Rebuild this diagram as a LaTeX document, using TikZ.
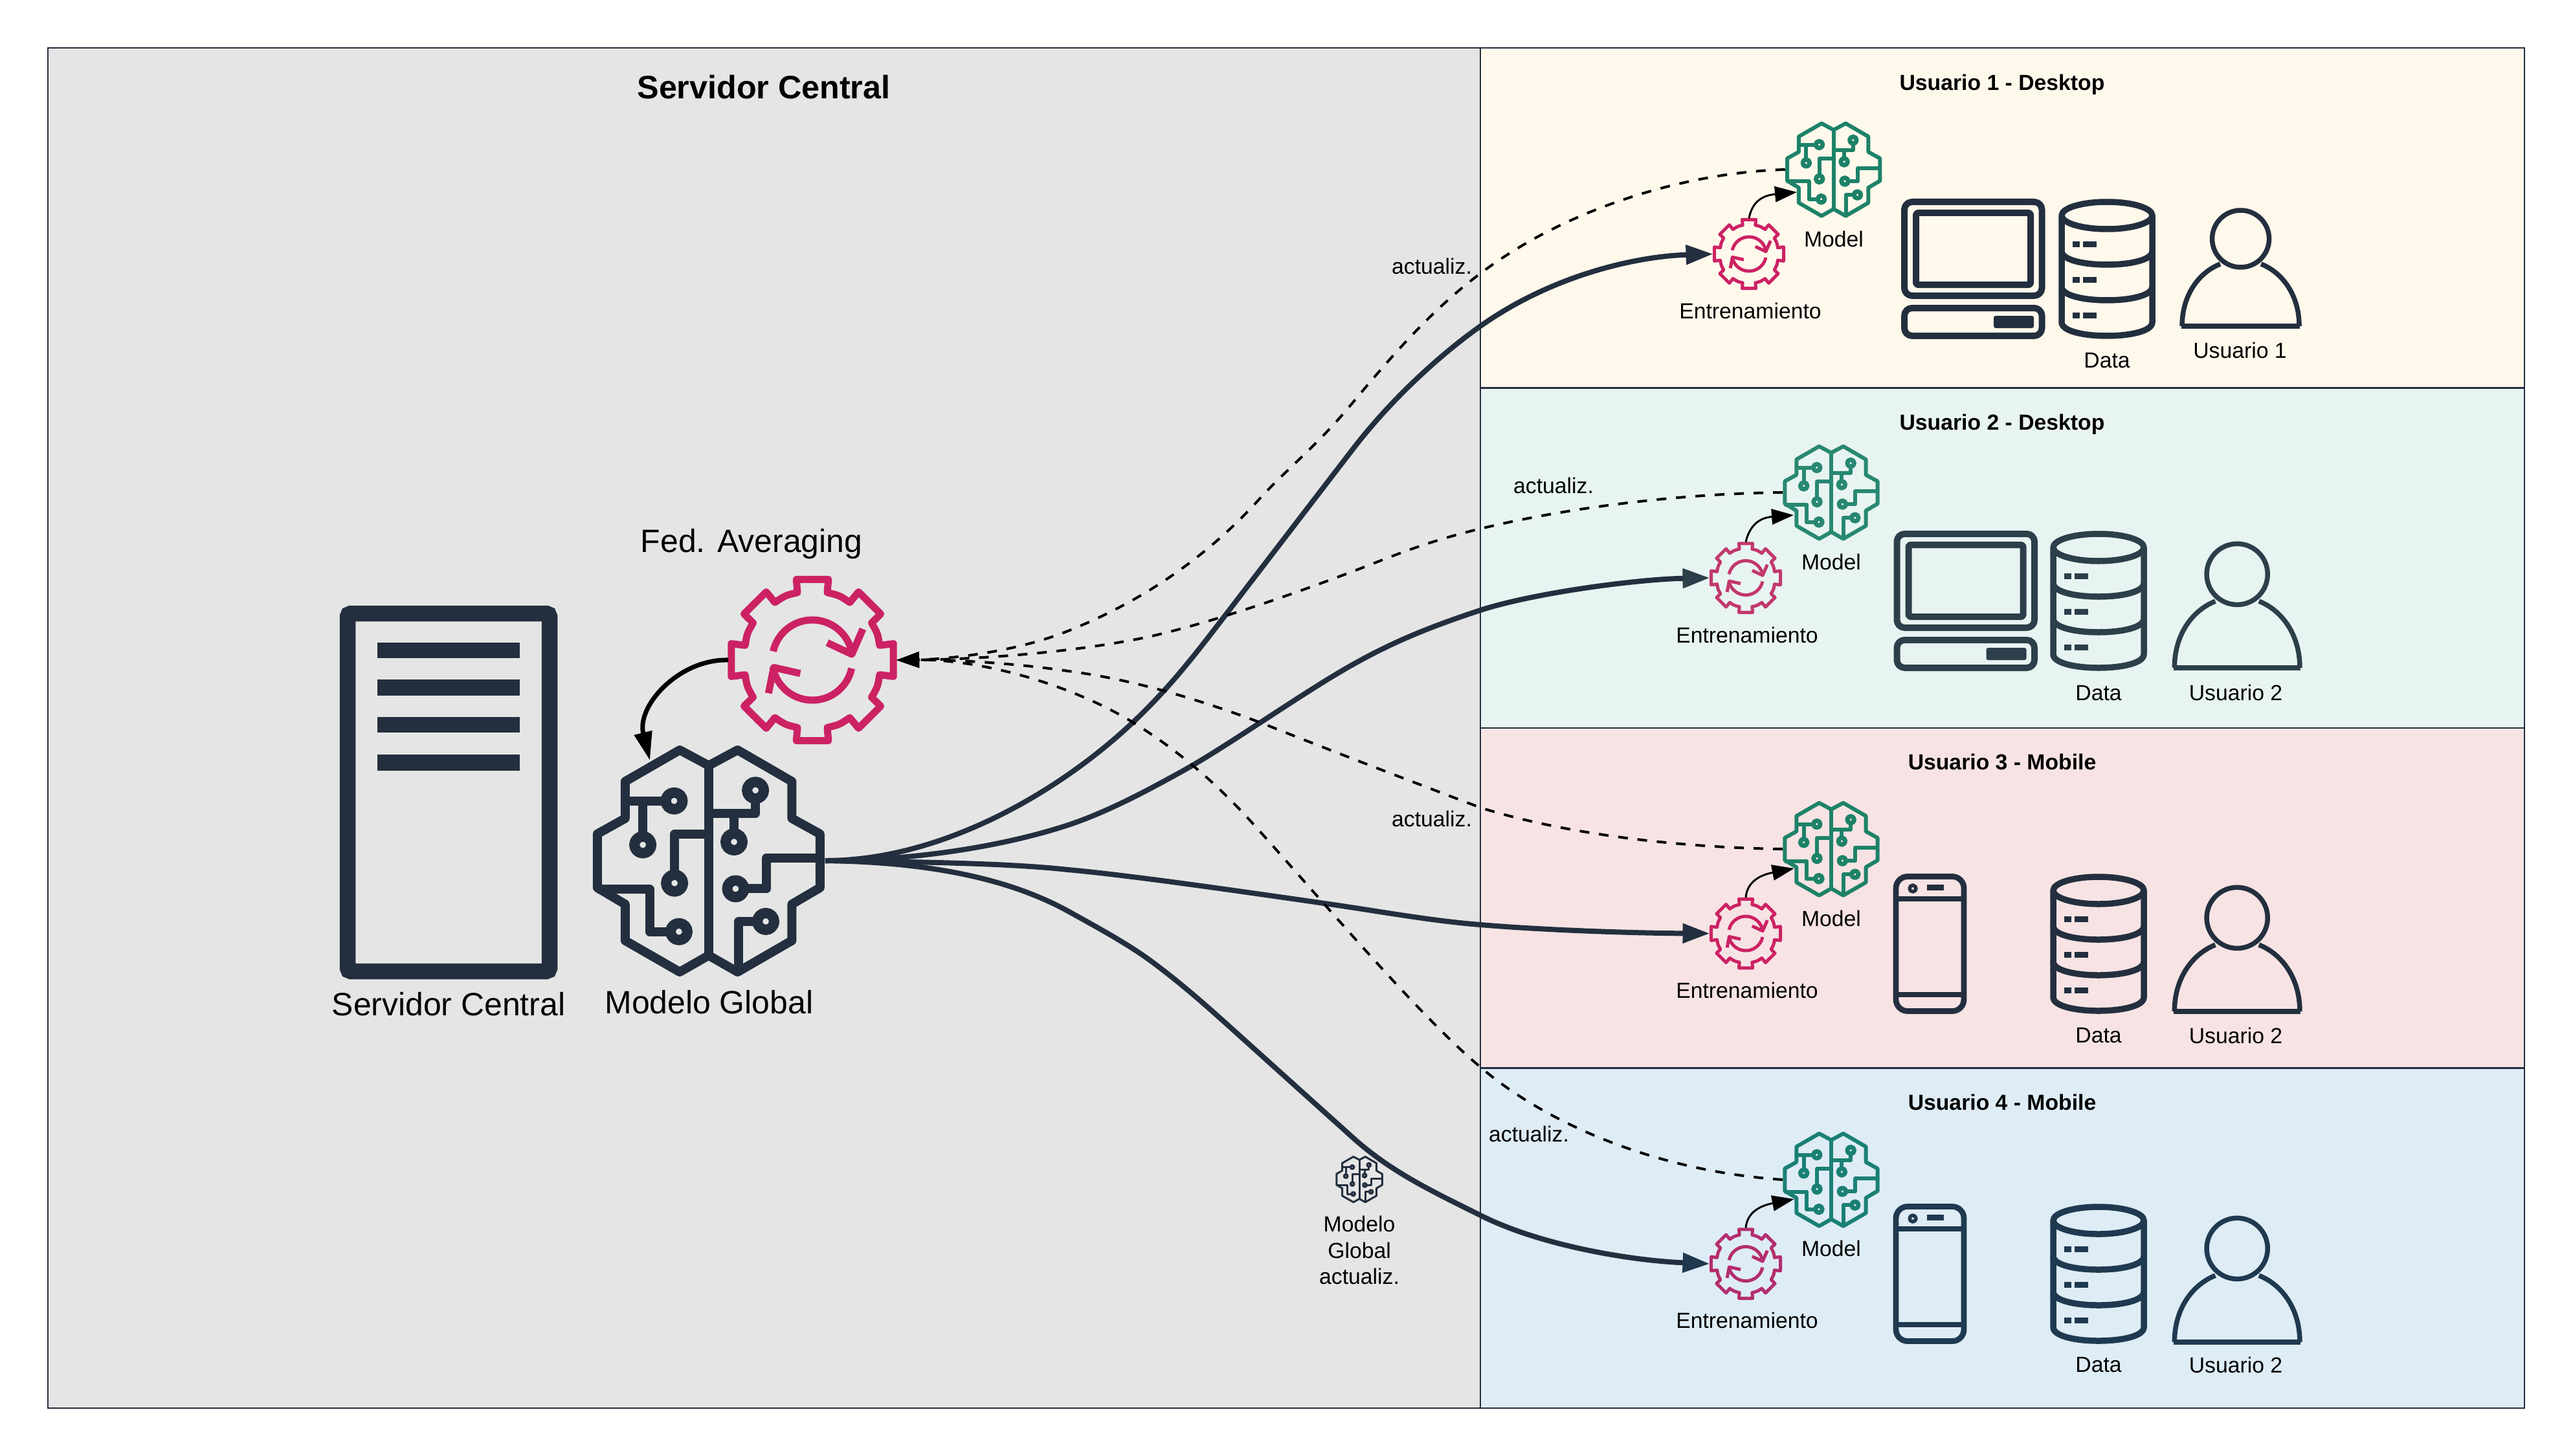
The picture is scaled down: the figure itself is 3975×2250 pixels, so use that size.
\documentclass[tikz,border=0pt]{standalone}
\usepackage{fontspec}
\setmainfont{Liberation Sans}
\usetikzlibrary{arrows.meta}
\definecolor{dkA}{HTML}{232F3E}
\definecolor{dkB}{HTML}{2C3F4A}
\definecolor{dkD}{HTML}{1F3A50}
\definecolor{pkA}{HTML}{CC2264}
\definecolor{pkB}{HTML}{C2386C}
\definecolor{pkD}{HTML}{B42D6E}
\definecolor{tlA}{HTML}{1D8268}
\definecolor{tlB}{HTML}{288872}
\definecolor{tlD}{HTML}{1A8074}
\definecolor{bgC}{HTML}{E5E5E5}
\definecolor{bgP}{HTML}{FFF9EC}
\definecolor{bgQ}{HTML}{E8F4F1}
\definecolor{bgR}{HTML}{F7E3E4}
\definecolor{bgS}{HTML}{DEECF5}
\tikzset{
  panelbox/.style={draw=dkA,line width=0.25mm},
  icon/.style={minimum size=#1*0.1mm,inner sep=0pt,outer sep=0pt},
  biglab/.style={font=\fontsize{14.2}{16}\selectfont,inner sep=0pt},
  bigbold/.style={font=\fontsize{14.3}{16}\selectfont\bfseries,inner sep=0pt},
  smlab/.style={font=\fontsize{9.6}{11.6}\selectfont,inner sep=0pt,align=center},
  smbold/.style={font=\fontsize{9.6}{11.4}\selectfont\bfseries,inner sep=0pt},
  flow/.style={draw=dkA,line width=0.8mm,-{Triangle[length=4.2mm,width=2.9mm,color=#1]}},
  update/.style={draw=black,line width=0.4mm,dash pattern=on 1.5mm off 1.5mm,-{Triangle[length=3.5mm,width=2.4mm]}},
  train/.style={draw=black,line width=0.3mm,-{Triangle[length=3.4mm,width=2.4mm]}},
}
% brain icon: centre x, centre y, scale, line width (mm), colour
\newcommand{\BrainIcon}[5]{%
\begin{scope}[shift={(#1,#2)},scale=#3,color=#5,line width=#4mm,line join=round]
\draw (0,-147) -- (-44.7,-171) -- (-129,-122.4) -- (-129,-65.3) -- (-172,-41.3) -- (-172,41.8) -- (-129,67.3) -- (-129,123.5) -- (-44.7,172) -- (0,146.4) -- (44.7,172) -- (128.6,123.5) -- (128.6,67.3) -- (172,41.8) -- (172,-41.3) -- (128.6,-65.3) -- (128.6,-122.4) -- (44.7,-171) -- cycle;
\draw (0,-147) -- (0,146.4);
\draw (-129,-92.3) -- (-53.3,-92.3);
\draw (-101.7,-92.3) -- (-101.7,-24.5);
\draw (0,-40.8) -- (-52.7,-40.8) -- (-52.7,34.7);
\draw (-172,44.4) -- (-91.2,44.4) -- (-91.2,109.7) -- (-45.9,109.7);
\draw (72.3,-108.7) -- (72.3,-73) -- (0,-73);
\draw (39.2,-73) -- (39.2,-29);
\draw (172,-4) -- (89.4,-4) -- (89.4,43.4) -- (41.6,43.4);
\draw (88.2,93.9) -- (46.5,93.9) -- (46.5,172);
\foreach \cx/\cy in {-53.3/-92.3,-101.7/-24.5,-52.7/34.7,-45.9/109.7,72.3/-108.7,39.2/-29,41.6/43.4,88.2/93.9}{
  \fill[fill=bgfillcol] (\cx,\cy) circle[radius=13];
  \draw[line width=1.15*#4mm] (\cx,\cy) circle[radius=13];
}
\end{scope}}
% gear icon: centre x, centre y, scale, line width (mm), colour
\newcommand{\GearIcon}[5]{%
\begin{scope}[shift={(#1,#2)},scale=#3,color=#5,line width=#4mm,line join=round]
\draw (24.8,-124.7) -- (23,-104.3) .. controls (41.5,-100) .. (57.9,-89) -- (71.3,-105.4) -- (105.6,-71.2) -- (91.5,-57.4) .. controls (101,-41) .. (103.8,-22.7) -- (125.2,-25.3)
 -- (125.2,25.3) -- (103.8,22.7) .. controls (101,41) .. (91.5,57.4) -- (105.6,71.2) -- (71.3,105.4) -- (57.9,89) .. controls (41.5,100) .. (23,104.3) -- (24.8,124.7)
 -- (-24.8,124.7) -- (-23,104.3) .. controls (-41.5,100) .. (-57.9,89) -- (-71.3,105.4) -- (-105.6,71.2) -- (-91.5,57.4) .. controls (-101,41) .. (-103.8,22.7) -- (-125.2,25.3)
 -- (-125.2,-25.3) -- (-103.8,-22.7) .. controls (-101,-41) .. (-91.5,-57.4) -- (-105.6,-71.2) -- (-71.3,-105.4) -- (-57.9,-89) .. controls (-41.5,-100) .. (-23,-104.3) -- (-24.8,-124.7) -- cycle;
\draw plot[domain=192.5:351.6,samples=30,smooth] ({62*cos(\x)},{62*sin(\x)});
\draw plot[domain=12:170,samples=30,smooth] ({62*cos(\x)},{62*sin(\x)});
\draw (23,-26.8) -- (61,-9) -- (78,-48);
\draw (-18.7,20.7) -- (-59.7,11.5) -- (-67.7,51.3);
\end{scope}}
% desktop icon: top-left x, y, colour
\newcommand{\DesktopIcon}[3]{%
\begin{scope}[shift={(#1,#2)},color=#3,line width=1mm,line join=round]
\draw[rounded corners=1.2mm] (5.5,5) rectangle (218,150);
\draw[rounded corners=0.3mm] (23.5,22) rectangle (200.5,133);
\draw[rounded corners=1.2mm] (5.5,169) rectangle (218,212);
\fill[rounded corners=0.3mm] (143.5,181) rectangle (205.5,200);
\end{scope}}
% phone icon: top-left x, y, colour
\newcommand{\PhoneIcon}[3]{%
\begin{scope}[shift={(#1,#2)},color=#3,line width=0.88mm,line join=round]
\draw[rounded corners=1.8mm] (4,4.5) rectangle (109,212.5);
\draw (4,39) -- (109,39);
\draw (4,187) -- (109,187);
\draw[line width=0.55mm] (30,23) circle[radius=5];
\fill (51.5,17) rectangle (78,26);
\end{scope}}
% data stack icon: top-left x, y, colour
\newcommand{\StackIcon}[3]{%
\begin{scope}[shift={(#1,#2)},color=#3,line width=0.95mm,line join=round]
\draw (75,26) ellipse[x radius=70,y radius=21];
\draw (5,26) -- (5,191) .. controls (5,219) and (145,219) .. (145,191) -- (145,26);
\draw (5,81) .. controls (5,109) and (145,109) .. (145,81);
\draw (5,136) .. controls (5,164) and (145,164) .. (145,136);
\foreach \by in {66,121,176}{
  \fill (22,\by) rectangle (33,\by+9);
  \fill (38,\by) rectangle (59,\by+9);
}
\end{scope}}
% user icon: top-left x, y, scale, colour
\newcommand{\UserIcon}[4]{%
\begin{scope}[shift={(#1,#2)},scale=#3,color=#4,line width=0.75mm,line join=round]
\draw (94.5,48) circle[radius=44];
\draw (4,183) .. controls (4,135) and (30,100) .. (63,87);
\draw (126,87) .. controls (159,100) and (185,135) .. (185,183);
\draw[line width=0.85mm] (3,183) -- (186,183);
\end{scope}}
\colorlet{bgfillcol}{bgC}
\begin{document}
\begin{tikzpicture}[x=0.1mm,y=-0.1mm]
\useasboundingbox (0,0) rectangle (3975,2250);
\fill[white] (0,0) rectangle (3975,2250);
% panels
\draw[panelbox,fill=bgC] (74,74) rectangle (2287,2176);
\draw[panelbox,fill=bgP] (2287,74) rectangle (3900,599.5);
\draw[panelbox,fill=bgQ] (2287,599.5) rectangle (3900,1125);
\draw[panelbox,fill=bgR] (2287,1125) rectangle (3900,1650.5);
\draw[panelbox,fill=bgS] (2287,1650.5) rectangle (3900,2176);
% titles
\node[bigbold] (tCentral) at (1180,135) {Servidor Central};
\node[smbold] (tOne) at (3093,131) {Usuario 1 - Desktop};
\node[smbold] (tTwo) at (3093,656) {Usuario 2 - Desktop};
\node[smbold] (tThree) at (3093,1177) {Usuario 3 - Mobile};
\node[smbold] (tFour) at (3093,1703) {Usuario 4 - Mobile};
% server
\draw[color=dkA,line width=2.45mm,rounded corners=0.5mm] (537,948) rectangle (849,1501);
\fill[dkA] (583,993) rectangle (803,1017);
\fill[dkA] (583,1050) rectangle (803,1075);
\fill[dkA] (583,1108) rectangle (803,1132);
\fill[dkA] (583,1166) rectangle (803,1191);
\node[biglab] (lServer) at (693,1552) {Servidor Central};
% global model and averaging
\node[icon=360] (bigbrain) at (1094.8,1330) {};
\BrainIcon{1094.8}{1330}{1}{1.4}{dkA}
\node[biglab] (lGlobal) at (1095.4,1549) {Modelo Global};
\node[icon=260] (biggear) at (1255,1020) {};
\GearIcon{1255}{1020}{1}{1.1}{pkA}
\node[biglab] (lAvg) at (1161,841) {Fed. Averaging};
\coordinate (bigtip) at (1004,1175);
\draw[black,line width=0.7mm,-{Triangle[length=4.4mm,width=2.7mm]}] (biggear.west) .. controls (1050,1018) and (983,1090) .. (bigtip);
% small updated model
\node[icon=73] (minibrain) at (2100,1822.5) {};
\BrainIcon{2100}{1822.5}{0.205}{0.3}{dkA}
\node[smlab] (lMini) at (2100,1932) {Modelo\\Global\\actualiz.};
% user 1
\colorlet{bgfillcol}{bgP}
\node[icon=150] (brainA) at (2832.7,262) {};
\BrainIcon{2832.7}{262}{0.4167}{0.6}{tlA}
\node[icon=111] (gearA) at (2702,392.5) {};
\GearIcon{2702}{392.5}{0.427}{0.5}{pkA}
\node[smlab] (mA) at (2833,369) {Model};
\node[smlab] (eA) at (2704,480) {Entrenamiento};
\DesktopIcon{2936.5}{307}{dkA}
\StackIcon{3180}{307}{dkA}
\UserIcon{3367}{321}{1}{dkA}
\node[smlab] (dA) at (3255,557) {Data};
\node[smlab] (uA) at (3460.5,541) {Usuario 1};
% user 2
\colorlet{bgfillcol}{bgQ}
\node[icon=150] (brainB) at (2829,761) {};
\BrainIcon{2829}{761}{0.4167}{0.6}{tlB}
\node[icon=111] (gearB) at (2697,893) {};
\GearIcon{2697}{893}{0.427}{0.5}{pkB}
\node[smlab] (mB) at (2829,868) {Model};
\node[smlab] (eB) at (2699,981) {Entrenamiento};
\DesktopIcon{2925}{820}{dkB}
\StackIcon{3167}{820}{dkB}
\UserIcon{3355}{836}{1.07}{dkB}
\node[smlab] (dB) at (3242,1071) {Data};
\node[smlab] (uB) at (3454,1070) {Usuario 2};
% user 3
\colorlet{bgfillcol}{bgR}
\node[icon=150] (brainC) at (2829,1312) {};
\BrainIcon{2829}{1312}{0.4167}{0.6}{tlA}
\node[icon=111] (gearC) at (2697,1442.5) {};
\GearIcon{2697}{1442.5}{0.427}{0.5}{pkA}
\node[smlab] (mC) at (2829,1419) {Model};
\node[smlab] (eC) at (2699,1530) {Entrenamiento};
\PhoneIcon{2925}{1350}{dkA}
\StackIcon{3167}{1350}{dkA}
\UserIcon{3355}{1367}{1.07}{dkA}
\node[smlab] (dC) at (3242,1600) {Data};
\node[smlab] (uC) at (3454,1600) {Usuario 2};
% user 4
\colorlet{bgfillcol}{bgS}
\node[icon=150] (brainD) at (2829,1823) {};
\BrainIcon{2829}{1823}{0.4167}{0.6}{tlD}
\node[icon=111] (gearD) at (2697,1953) {};
\GearIcon{2697}{1953}{0.427}{0.5}{pkD}
\node[smlab] (mD) at (2829,1929) {Model};
\node[smlab] (eD) at (2699,2040) {Entrenamiento};
\PhoneIcon{2925}{1860}{dkD}
\StackIcon{3167}{1860}{dkD}
\UserIcon{3355}{1878}{1.07}{dkD}
\node[smlab] (dD) at (3242,2109) {Data};
\node[smlab] (uD) at (3454,2109) {Usuario 2};
% train arrows
\coordinate (tipA) at (2776,297);
\coordinate (tipB) at (2771,796);
\coordinate (tipC) at (2771.7,1342);
\coordinate (tipD) at (2771.7,1853);
\draw[train] (gearA.north) .. controls (2707,312) and (2722,302) .. (tipA);
\draw[train] (gearB.north) .. controls (2703,812) and (2718,800) .. (tipB);
\draw[train] (gearC.north) .. controls (2699,1362) and (2720,1352) .. (tipC);
\draw[train] (gearD.north) .. controls (2699,1873) and (2720,1863) .. (tipD);
% global model distribution
\draw[flow=dkA] (bigbrain.east) .. controls (1460,1330) and (1650,1217) .. (1767,1100) .. controls (1810,1057) and (1840,1020) .. (1892,952) .. controls (1958,866) and (2030,772) .. (2090,694) .. controls (2150,616) and (2225,548) .. (2287,504) .. controls (2400,424) and (2530,396) .. (gearA.west);
\draw[flow=dkB] (bigbrain.east) .. controls (1400,1330) and (1540,1311) .. (1650,1275) .. controls (1710,1255) and (1770,1223) .. (1826,1192) .. controls (1900,1151) and (2020,1065) .. (2097,1023) .. controls (2160,988) and (2220,965) .. (2287,943) .. controls (2370,916) and (2530,895) .. (gearB.west);
\draw[flow=dkA] (bigbrain.east) .. controls (1400,1332) and (1550,1333) .. (1650,1344) .. controls (1740,1352) and (1900,1375) .. (2046,1396) .. controls (2130,1408) and (2210,1423) .. (2287,1429) .. controls (2380,1437) and (2520,1442) .. (gearC.west);
\draw[flow=dkD] (bigbrain.east) .. controls (1420,1332) and (1550,1353) .. (1650,1408) .. controls (1695,1433) and (1745,1460) .. (1782,1488) .. controls (1825,1520) and (1860,1551) .. (1899,1586) .. controls (1960,1641) and (2030,1704) .. (2090,1758) .. controls (2150,1812) and (2215,1842) .. (2287,1878) .. controls (2380,1925) and (2520,1948) .. (gearD.west);
% updates
\draw[update] (brainA.west) .. controls (2620,266) and (2470,310) .. (2354,378) .. controls (2250,439) and (2180,514) .. (2090,622) .. controls (2030,694) and (1990,722) .. (1943,774) .. controls (1860,865) and (1760,931) .. (1650,975) .. controls (1560,1011) and (1450,1019) .. (biggear.east);
\draw[update] (brainB.west) .. controls (2620,762) and (2440,780) .. (2287,817) .. controls (2200,838) and (2150,860) .. (2090,883) .. controls (2000,917) and (1880,960) .. (1775,984) .. controls (1650,1010) and (1500,1019) .. (biggear.east);
\draw[update] (brainC.west) .. controls (2600,1310) and (2420,1290) .. (2287,1248) .. controls (2200,1215) and (2030,1150) .. (1951,1118) .. controls (1850,1080) and (1750,1050) .. (1650,1037) .. controls (1570,1025) and (1470,1019) .. (biggear.east);
\draw[update] (brainD.west) .. controls (2560,1810) and (2390,1737) .. (2287,1649) .. controls (2190,1567) and (2050,1400) .. (1943,1281) .. controls (1880,1210) and (1820,1160) .. (1753,1118) .. controls (1660,1060) and (1520,1019) .. (biggear.east);
% update labels
\node[smlab] (aA) at (2212,411) {actualiz.};
\node[smlab] (aB) at (2400,750) {actualiz.};
\node[smlab] (aC) at (2212,1265) {actualiz.};
\node[smlab] (aD) at (2362,1752) {actualiz.};
\end{tikzpicture}
\end{document}
